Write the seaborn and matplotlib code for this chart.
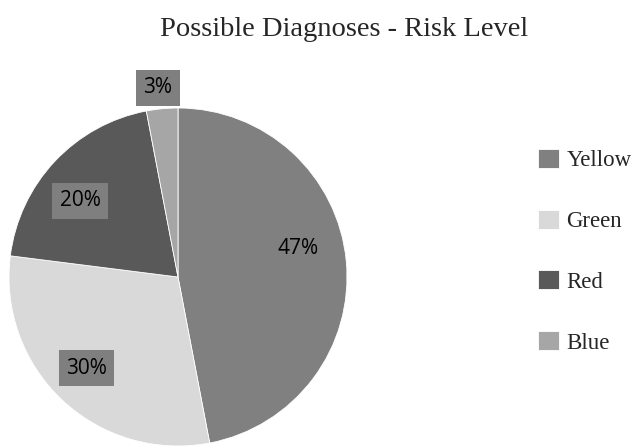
import matplotlib
matplotlib.use("Agg")
import matplotlib.pyplot as plt
import seaborn as sns

# data
categories = ["Yellow", "Green", "Red", "Blue"]
shares = [47, 30, 20, 3]
label_text = ["47%", "30%", "20%", "3%"]
slice_colors = ["#808080", "#d9d9d9", "#595959", "#a6a6a6"]

# label placement, in units of the pie radius (Excel "best fit" look)
label_pos = [(0.71, 0.17), (-0.54, -0.54), (-0.58, 0.45), (-0.12, 1.12)]
label_boxed = [False, True, True, True]

sns.set_theme(style="white")
plt.rcParams["font.family"] = ["Liberation Serif", "DejaVu Serif"]

fig = plt.figure(figsize=(6.31, 4.47), dpi=100)
ax = fig.add_axes([9 / 631, 1 / 447, 338 / 631, 338 / 447])

palette = sns.color_palette(slice_colors)
wedges, _ = ax.pie(shares, colors=palette, startangle=90, counterclock=False,
                   wedgeprops=dict(edgecolor="white", linewidth=0.6))
ax.set_xlim(-1, 1)
ax.set_ylim(-1, 1)
ax.set_aspect("equal")

for txt, (x, y), boxed in zip(label_text, label_pos, label_boxed):
    bbox = dict(boxstyle="square,pad=0.35", fc="#7f7f7f", ec="none") if boxed else None
    ax.text(x, y, txt, ha="center", va="center", fontsize=15,
            family=["Open Sans", "DejaVu Sans"], color="black", bbox=bbox,
            clip_on=False)

fig.text(0.545, 0.933, "Possible Diagnoses - Risk Level", ha="center", va="center",
         fontsize=20.5)

fig.legend(wedges, categories, loc="center left", bbox_to_anchor=(0.838, 0.438),
           frameon=False, fontsize=16.5, handlelength=0.9, handleheight=0.9,
           handletextpad=0.35, labelspacing=1.68, borderaxespad=0)

fig.savefig("out.png", dpi=100)
